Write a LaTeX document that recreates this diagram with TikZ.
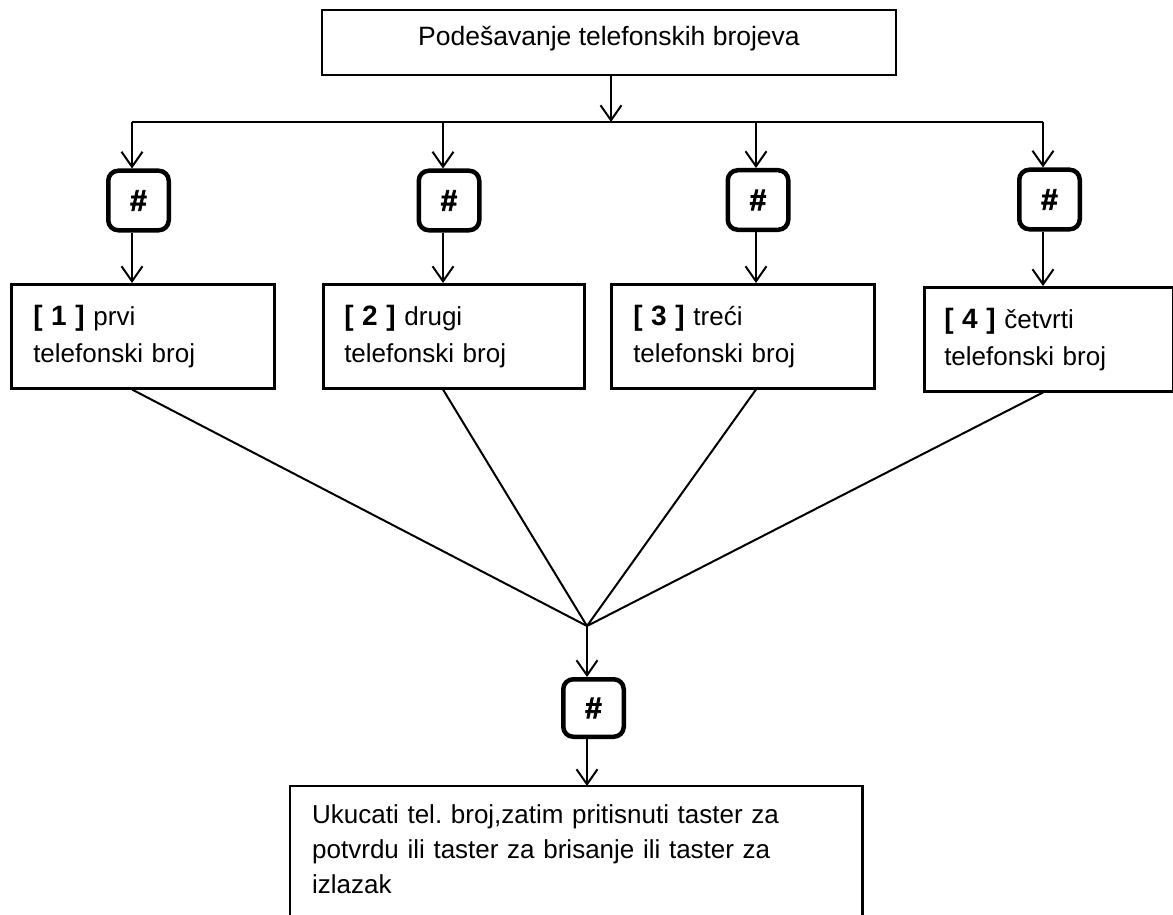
\documentclass[tikz,border=0pt]{standalone}
\usepackage{fontspec}
\setmainfont{Liberation Sans}
\newfontfamily\keyfont[FakeBold=2.5]{Liberation Sans Bold}
\usetikzlibrary{arrows.meta}
\frenchspacing
\tikzset{
  conn/.style={line width=2pt},
  arr/.style={line width=2pt, -{Straight Barb[length=15pt,width=21pt,line width=2pt]}},
  numbox/.style={draw, line width=2.5pt, rectangle, anchor=north west, align=left,
    inner ysep=0pt, minimum height=104pt, font=\fontsize{26}{37}\selectfont},
  keybox/.style={draw, line width=4.5pt, rounded corners=10pt, minimum width=60.5pt,
    minimum height=59.5pt, inner sep=0pt, font=\keyfont\fontsize{30}{34}\selectfont}
}
\newcommand{\numtag}[1]{{\fontsize{28}{37}\selectfont\bfseries [ #1 ]}}
\begin{document}
\begin{tikzpicture}[x=1pt,y=-1pt]
\useasboundingbox (0,0) rectangle (1173,915);
\clip (0,0) rectangle (1173,915);
% top box
\node[draw, line width=2.5pt, minimum width=574pt, minimum height=65pt, inner sep=0pt,
  text height=20pt, text depth=13pt, font=\fontsize{26.5}{30}\selectfont] (t) at (609,42.5)
  {Podešavanje telefonskih brojeva};
% bus coordinates
\coordinate (c0) at (611,122);
\coordinate (c1) at (132,122);
\coordinate (c2) at (443,122);
\coordinate (c3) at (756,122);
\coordinate (c4) at (1043,122);
\draw[arr] (t.south -| c0) -- (c0);
\draw[conn] (c1) -- (c4);
% keys
\node[keybox] (k1) at (138.5,200.5) {\#};
\node[keybox] (k2) at (449,200.5) {\#};
\node[keybox] (k3) at (758,200) {\#};
\node[keybox] (k4) at (1049.5,199.5) {\#};
% number boxes
\node[numbox, text width=219pt, inner xsep=22pt] (b1) at (10,283) {\numtag{1} prvi\\telefonski broj};
\node[numbox, text width=219pt, inner xsep=21pt] (b2) at (322,283) {\numtag{2} drugi\\telefonski broj};
\node[numbox, text width=219pt, inner xsep=22pt] (b3) at (610,283) {\numtag{3} treći\\telefonski broj};
\node[numbox, text width=209pt, inner xsep=20pt] (b4) at (923,286) {\numtag{4} četvrti\\telefonski broj};
% arrows bus -> keys -> boxes
\foreach \i in {1,2,3,4}{
  \draw[arr] (c\i) -- (c\i |- k\i.north);
  \draw[arr] (k\i.south -| c\i) -- (c\i |- b\i.north);
}
% converging lines
\coordinate (m) at (587,626);
\foreach \i in {1,2,3,4}{
  \draw[conn] (c\i |- b\i.south) -- (m);
}
% final key
\node[keybox, minimum height=57.5pt] (k5) at (593.5,708) {\#};
% final box
\node[anchor=north west, text width=528pt, inner xsep=22pt, inner ysep=18pt, align=left,
  font=\fontsize{26}{35}\selectfont] (b5) at (290,786)
  {Ukucati tel. broj,zatim pritisnuti taster za\\potvrdu ili taster za brisanje ili taster za\\izlazak};
\draw[line width=2.5pt] ([yshift=-200pt]b5.north west) -- (b5.north west) -- (b5.north east) -- ([yshift=-200pt]b5.north east);
\draw[arr] (m) -- (m |- k5.north);
\draw[arr] (k5.south -| m) -- (m |- b5.north);
\end{tikzpicture}
\end{document}
